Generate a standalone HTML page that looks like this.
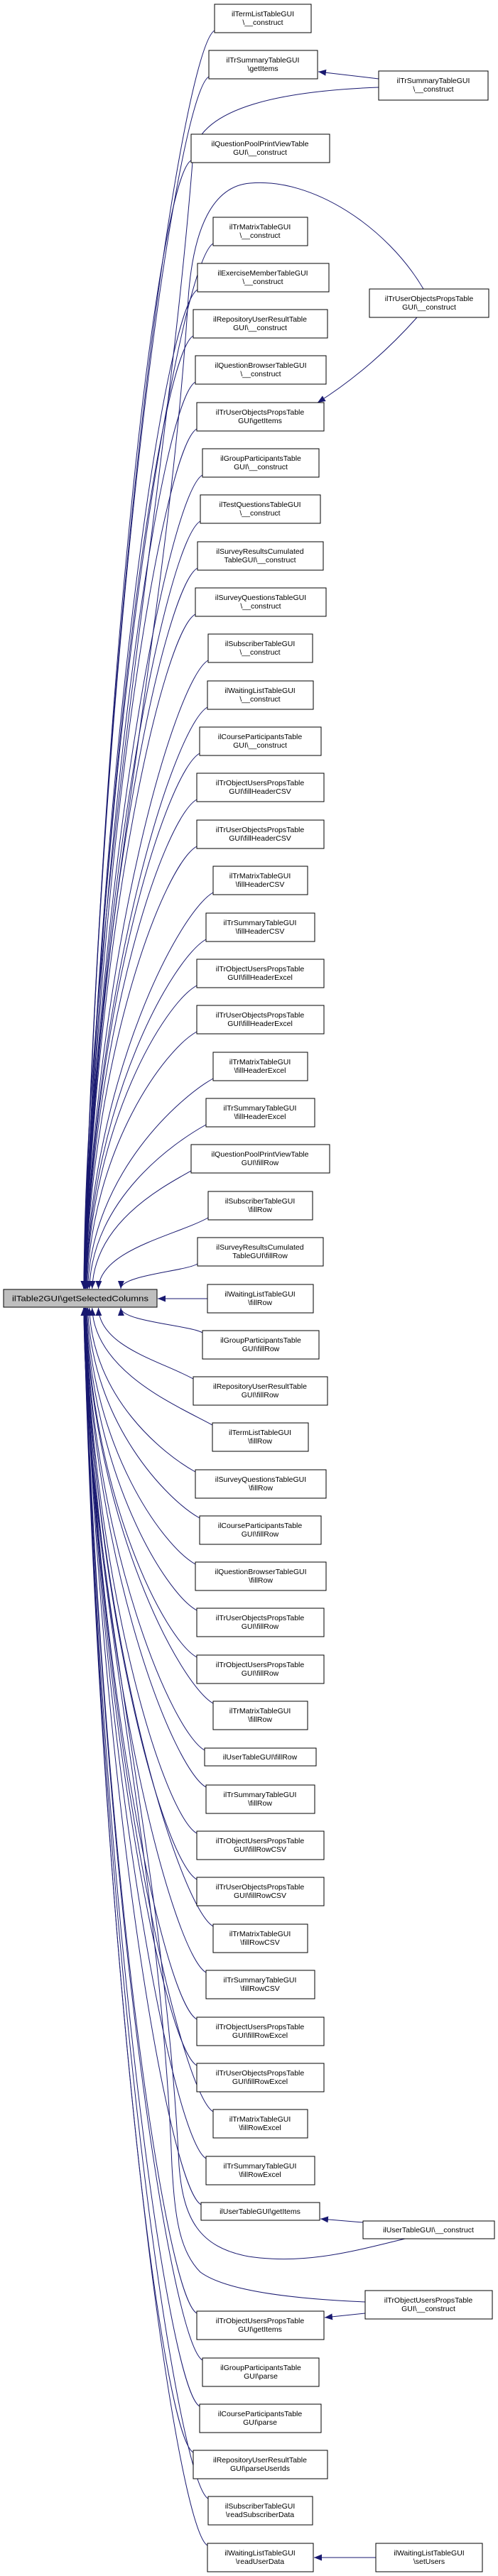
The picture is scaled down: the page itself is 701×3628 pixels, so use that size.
<!DOCTYPE html>
<html><head><meta charset="utf-8"><style>
html,body{margin:0;padding:0;background:#fff;}
svg{display:block;}
text{font-family:"Liberation Sans",Helvetica,Arial,sans-serif;font-size:10.5px;fill:#000;text-anchor:middle;}
.n{fill:#fff;stroke:#000;stroke-width:1;}
</style></head><body>
<svg id="s" width="701" height="3628" viewBox="0 0 701 3628" xmlns="http://www.w3.org/2000/svg">
<defs><marker id="a" markerWidth="11" markerHeight="9" refX="11" refY="4.5" orient="auto" markerUnits="userSpaceOnUse"><path d="M0,0 L11,4.5 L0,9 z" fill="#191970"/></marker></defs>
<g id="edges" fill="none" stroke="#191970" stroke-width="1">
<path d="M533,111 L448,101" marker-end="url(#a)"/>
<path d="M587,447 C540,500 490,540 447,567" marker-end="url(#a)"/>
<path d="M511,3130 L451,3125" marker-end="url(#a)"/>
<path d="M514,3258 L457,3264" marker-end="url(#a)"/>
<path d="M529,3602 L442,3602" marker-end="url(#a)"/>
<path d="M292,1829 L222,1829" marker-end="url(#a)"/>
<path d="M533,123 C400,128 285,150 272,215 C235,700 120,1300 118,1815" marker-end="url(#a)"/>
<path d="M596,407 C545,320 440,250 352,258 C300,262 272,320 265,420 C235,900 120,1400 118,1815" marker-end="url(#a)"/>
<path d="M570,3153 C500,3170 430,3190 350,3178 C280,3165 258,3125 252,3050 C230,2600 120,2200 118,1842" marker-end="url(#a)"/>
<path d="M514,3242 C420,3238 320,3228 282,3200 C252,3170 246,3120 242,3050 C225,2600 120,2200 118,1842" marker-end="url(#a)"/>
</g>
<rect x="5" y="1816" width="216" height="25" fill="#bfbfbf" stroke="#000"/>
<text x="113" y="1832.5" textLength="192" lengthAdjust="spacingAndGlyphs" style="font-size:11px">ilTable2GUI\getSelectedColumns</text>

<g id="nodes">
<rect class="n" x="302" y="6" width="136" height="40"/><text x="370" y="23">ilTermListTableGUI</text><text x="370" y="35">\__construct</text>
<rect class="n" x="294" y="71" width="153" height="40"/><text x="370" y="88">ilTrSummaryTableGUI</text><text x="370" y="100">\getItems</text>
<rect class="n" x="269" y="189" width="195" height="40"/><text x="366" y="206">ilQuestionPoolPrintViewTable</text><text x="366" y="218">GUI\__construct</text>
<rect class="n" x="300" y="306" width="133" height="40"/><text x="366" y="323">ilTrMatrixTableGUI</text><text x="366" y="335">\__construct</text>
<rect class="n" x="278" y="371" width="185" height="40"/><text x="370" y="388">ilExerciseMemberTableGUI</text><text x="370" y="400">\__construct</text>
<rect class="n" x="272" y="436" width="189" height="40"/><text x="366" y="453">ilRepositoryUserResultTable</text><text x="366" y="465">GUI\__construct</text>
<rect class="n" x="275" y="501" width="184" height="40"/><text x="367" y="518">ilQuestionBrowserTableGUI</text><text x="367" y="530">\__construct</text>
<rect class="n" x="277" y="567" width="179" height="40"/><text x="366" y="584">ilTrUserObjectsPropsTable</text><text x="366" y="596">GUI\getItems</text>
<rect class="n" x="285" y="632" width="164" height="40"/><text x="367" y="649">ilGroupParticipantsTable</text><text x="367" y="661">GUI\__construct</text>
<rect class="n" x="282" y="697" width="169" height="40"/><text x="366" y="714">ilTestQuestionsTableGUI</text><text x="366" y="726">\__construct</text>
<rect class="n" x="278" y="763" width="177" height="40"/><text x="366" y="780">ilSurveyResultsCumulated</text><text x="366" y="792">TableGUI\__construct</text>
<rect class="n" x="275" y="828" width="184" height="40"/><text x="367" y="845">ilSurveyQuestionsTableGUI</text><text x="367" y="857">\__construct</text>
<rect class="n" x="293" y="893" width="147" height="40"/><text x="366" y="910">ilSubscriberTableGUI</text><text x="366" y="922">\__construct</text>
<rect class="n" x="292" y="959" width="149" height="40"/><text x="366" y="976">ilWaitingListTableGUI</text><text x="366" y="988">\__construct</text>
<rect class="n" x="281" y="1024" width="171" height="40"/><text x="366" y="1041">ilCourseParticipantsTable</text><text x="366" y="1053">GUI\__construct</text>
<rect class="n" x="277" y="1089" width="179" height="40"/><text x="366" y="1106">ilTrObjectUsersPropsTable</text><text x="366" y="1118">GUI\fillHeaderCSV</text>
<rect class="n" x="277" y="1155" width="179" height="40"/><text x="366" y="1172">ilTrUserObjectsPropsTable</text><text x="366" y="1184">GUI\fillHeaderCSV</text>
<rect class="n" x="300" y="1220" width="133" height="40"/><text x="366" y="1237">ilTrMatrixTableGUI</text><text x="366" y="1249">\fillHeaderCSV</text>
<rect class="n" x="290" y="1286" width="153" height="40"/><text x="366" y="1303">ilTrSummaryTableGUI</text><text x="366" y="1315">\fillHeaderCSV</text>
<rect class="n" x="277" y="1351" width="179" height="40"/><text x="366" y="1368">ilTrObjectUsersPropsTable</text><text x="366" y="1380">GUI\fillHeaderExcel</text>
<rect class="n" x="277" y="1416" width="179" height="40"/><text x="366" y="1433">ilTrUserObjectsPropsTable</text><text x="366" y="1445">GUI\fillHeaderExcel</text>
<rect class="n" x="300" y="1482" width="133" height="40"/><text x="366" y="1499">ilTrMatrixTableGUI</text><text x="366" y="1511">\fillHeaderExcel</text>
<rect class="n" x="290" y="1547" width="153" height="40"/><text x="366" y="1564">ilTrSummaryTableGUI</text><text x="366" y="1576">\fillHeaderExcel</text>
<rect class="n" x="269" y="1612" width="195" height="40"/><text x="366" y="1629">ilQuestionPoolPrintViewTable</text><text x="366" y="1641">GUI\fillRow</text>
<rect class="n" x="293" y="1678" width="147" height="40"/><text x="366" y="1695">ilSubscriberTableGUI</text><text x="366" y="1707">\fillRow</text>
<rect class="n" x="278" y="1743" width="177" height="40"/><text x="366" y="1760">ilSurveyResultsCumulated</text><text x="366" y="1772">TableGUI\fillRow</text>
<rect class="n" x="292" y="1809" width="149" height="40"/><text x="366" y="1826">ilWaitingListTableGUI</text><text x="366" y="1838">\fillRow</text>
<rect class="n" x="285" y="1874" width="164" height="40"/><text x="367" y="1891">ilGroupParticipantsTable</text><text x="367" y="1903">GUI\fillRow</text>
<rect class="n" x="272" y="1939" width="189" height="40"/><text x="366" y="1956">ilRepositoryUserResultTable</text><text x="366" y="1968">GUI\fillRow</text>
<rect class="n" x="299" y="2004" width="135" height="40"/><text x="366" y="2021">ilTermListTableGUI</text><text x="366" y="2033">\fillRow</text>
<rect class="n" x="275" y="2070" width="184" height="40"/><text x="367" y="2087">ilSurveyQuestionsTableGUI</text><text x="367" y="2099">\fillRow</text>
<rect class="n" x="281" y="2135" width="171" height="40"/><text x="366" y="2152">ilCourseParticipantsTable</text><text x="366" y="2164">GUI\fillRow</text>
<rect class="n" x="275" y="2200" width="184" height="40"/><text x="367" y="2217">ilQuestionBrowserTableGUI</text><text x="367" y="2229">\fillRow</text>
<rect class="n" x="277" y="2265" width="179" height="40"/><text x="366" y="2282">ilTrUserObjectsPropsTable</text><text x="366" y="2294">GUI\fillRow</text>
<rect class="n" x="277" y="2331" width="179" height="40"/><text x="366" y="2348">ilTrObjectUsersPropsTable</text><text x="366" y="2360">GUI\fillRow</text>
<rect class="n" x="300" y="2396" width="133" height="40"/><text x="366" y="2413">ilTrMatrixTableGUI</text><text x="366" y="2425">\fillRow</text>
<rect class="n" x="288" y="2462" width="157" height="25"/><text x="366" y="2478">ilUserTableGUI\fillRow</text>
<rect class="n" x="290" y="2514" width="153" height="40"/><text x="366" y="2531">ilTrSummaryTableGUI</text><text x="366" y="2543">\fillRow</text>
<rect class="n" x="277" y="2579" width="179" height="40"/><text x="366" y="2596">ilTrObjectUsersPropsTable</text><text x="366" y="2608">GUI\fillRowCSV</text>
<rect class="n" x="277" y="2644" width="179" height="40"/><text x="366" y="2661">ilTrUserObjectsPropsTable</text><text x="366" y="2673">GUI\fillRowCSV</text>
<rect class="n" x="300" y="2710" width="133" height="40"/><text x="366" y="2727">ilTrMatrixTableGUI</text><text x="366" y="2739">\fillRowCSV</text>
<rect class="n" x="290" y="2775" width="153" height="40"/><text x="366" y="2792">ilTrSummaryTableGUI</text><text x="366" y="2804">\fillRowCSV</text>
<rect class="n" x="277" y="2841" width="179" height="40"/><text x="366" y="2858">ilTrObjectUsersPropsTable</text><text x="366" y="2870">GUI\fillRowExcel</text>
<rect class="n" x="277" y="2906" width="179" height="40"/><text x="366" y="2923">ilTrUserObjectsPropsTable</text><text x="366" y="2935">GUI\fillRowExcel</text>
<rect class="n" x="300" y="2971" width="133" height="40"/><text x="366" y="2988">ilTrMatrixTableGUI</text><text x="366" y="3000">\fillRowExcel</text>
<rect class="n" x="290" y="3037" width="153" height="40"/><text x="366" y="3054">ilTrSummaryTableGUI</text><text x="366" y="3066">\fillRowExcel</text>
<rect class="n" x="283" y="3102" width="167" height="25"/><text x="366" y="3118">ilUserTableGUI\getItems</text>
<rect class="n" x="277" y="3255" width="179" height="40"/><text x="366" y="3272">ilTrObjectUsersPropsTable</text><text x="366" y="3284">GUI\getItems</text>
<rect class="n" x="285" y="3321" width="164" height="40"/><text x="367" y="3338">ilGroupParticipantsTable</text><text x="367" y="3350">GUI\parse</text>
<rect class="n" x="281" y="3386" width="171" height="40"/><text x="366" y="3403">ilCourseParticipantsTable</text><text x="366" y="3415">GUI\parse</text>
<rect class="n" x="272" y="3451" width="189" height="40"/><text x="366" y="3468">ilRepositoryUserResultTable</text><text x="366" y="3480">GUI\parseUserIds</text>
<rect class="n" x="293" y="3516" width="147" height="40"/><text x="366" y="3533">ilSubscriberTableGUI</text><text x="366" y="3545">\readSubscriberData</text>
<rect class="n" x="292" y="3582" width="149" height="40"/><text x="366" y="3599">ilWaitingListTableGUI</text><text x="366" y="3611">\readUserData</text>

<rect class="n" x="533" y="100" width="154" height="41"/><text x="610" y="117">ilTrSummaryTableGUI</text><text x="610" y="129">\__construct</text>
<rect class="n" x="520" y="407" width="168" height="40"/><text x="604" y="424">ilTrUserObjectsPropsTable</text><text x="604" y="436">GUI\__construct</text>
<rect class="n" x="511" y="3128" width="185" height="25"/><text x="603" y="3144">ilUserTableGUI\__construct</text>
<rect class="n" x="514" y="3226" width="179" height="40"/><text x="603" y="3243">ilTrObjectUsersPropsTable</text><text x="603" y="3255">GUI\__construct</text>
<rect class="n" x="529" y="3582" width="150" height="40"/><text x="604" y="3599">ilWaitingListTableGUI</text><text x="604" y="3611">\setUsers</text>
</g>
</svg>
<script>
(function(){
var N=[[302,6,40],[294,71,40],[269,189,40],[300,306,40],[278,371,40],[272,436,40],[275,501,40],[277,567,40],[285,632,40],[282,697,40],[278,763,40],[275,828,40],[293,893,40],[292,959,40],[281,1024,40],[277,1089,40],[277,1155,40],[300,1220,40],[290,1286,40],[277,1351,40],[277,1416,40],[300,1482,40],[290,1547,40],[269,1612,40],[293,1678,40],[278,1743,40],
null,
[285,1874,40],[272,1939,40],[299,2004,40],[275,2070,40],[281,2135,40],[275,2200,40],[277,2265,40],[277,2331,40],[300,2396,40],[288,2462,25],[290,2514,40],[277,2579,40],[277,2644,40],[300,2710,40],[290,2775,40],[277,2841,40],[277,2906,40],[300,2971,40],[290,3037,40],[283,3102,25],[277,3255,40],[285,3321,40],[281,3386,40],[272,3451,40],[293,3516,40],[292,3582,40]];
var g=document.getElementById('edges'),ns='http://www.w3.org/2000/svg';
for(var i=0;i<N.length;i++){var n=N[i];if(!n)continue;
 var up=i<26,k=up?26-i:i-26;
 var ex=117+53/Math.pow(k,1.3);
 var sx=n[0],sy,ey,c1x,c1y,c2x,c2y,d;
 if(up){sy=n[1]+n[2]-3;ey=1815;d=ey-sy;c1x=sx-Math.min(45,d*0.5);c1y=sy+Math.min(25,d*0.3);c2x=ex+Math.min(25,d*0.02);c2y=ey-d*0.55;}
 else{sy=n[1]+3;ey=1842;d=sy-ey;c1x=sx-Math.min(45,d*0.5);c1y=sy-Math.min(25,d*0.3);c2x=ex+Math.min(25,d*0.02);c2y=ey+d*0.55;}
 var p=document.createElementNS(ns,'path');
 p.setAttribute('d','M'+sx+','+sy+' C'+c1x.toFixed(1)+','+c1y.toFixed(1)+' '+c2x.toFixed(1)+','+c2y.toFixed(1)+' '+ex.toFixed(1)+','+ey);
 p.setAttribute('marker-end','url(#a)');g.appendChild(p);}
})();
</script>
</body></html>
